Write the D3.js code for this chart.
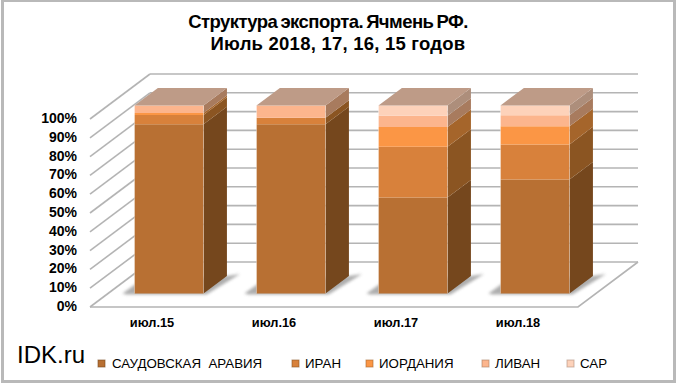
<!DOCTYPE html>
<html>
<head>
<meta charset="utf-8">
<script src="https://cdn.jsdelivr.net/npm/d3@7"></script>
<style>
  html, body { margin: 0; padding: 0; background: #fff; }
  text { font-family: "Liberation Sans", Arial, sans-serif; fill: #000; }
</style>
</head>
<body>
<div id="chart-area"></div>
<script>
//////////////////////////////// DATA ////////////////////////////////
const months = ["июл.15", "июл.16", "июл.17", "июл.18"];
const countries = ["САУДОВСКАЯ  АРАВИЯ", "ИРАН", "ИОРДАНИЯ", "ЛИВАН", "САР"];
const saudi = [90, 90, 51, 60.6];
const iran = [5, 3.5, 27, 18.7];
const jordan = [1, 0, 10.5, 9.6];
const lebanon = [4, 6.5, 6, 5.9];
const sar = [0, 0, 5.5, 5.2];
const yTicks = [0, 10, 20, 30, 40, 50, 60, 70, 80, 90, 100];

//////////////////////////////// LAYOUT / STYLE ////////////////////////////////
const faceColour = ["#b87033", "#d8813b", "#fb9645", "#fcb58d", "#fdd2ba"];
const sideColour = ["#75471d", "#8b5522", "#a5652b", "#a87b5e", "#ad8e7b"];
const topColour = "#be9b87";
const gridColour = "#b4b4b4";
const legendX = [98, 292, 366, 482, 567];

const width = 680, height = 385;
const svg = d3.select("#chart-area").append("svg")
  .attr("width", width)
  .attr("height", height)
  .style("display", "block");

// blur for the floor shadows
const defs = svg.append("defs");
defs.append("filter").attr("id", "blur")
  .attr("x", "-30%").attr("y", "-30%").attr("width", "160%").attr("height", "160%")
  .append("feGaussianBlur").attr("stdDeviation", 1.6);

// frame
svg.append("rect")
  .attr("x", 2.5).attr("y", 0.5)
  .attr("width", 672).attr("height", 381)
  .attr("fill", "#fff")
  .attr("stroke", "#b9b9b9")
  .attr("stroke-width", 3);

// title
const title = svg.append("text")
  .attr("text-anchor", "middle")
  .style("font-weight", "bold")
  .style("font-size", "18.5px");
title.append("tspan").attr("x", 328).attr("y", 28)
  .style("letter-spacing", "-0.55px")
  .style("word-spacing", "-1.5px")
  .text("Структура экспорта. Ячмень РФ.");
title.append("tspan").attr("x", 338).attr("y", 50)
  .style("letter-spacing", "0.23px")
  .text("Июль 2018, 17, 16, 15 годов");

//scales: front plane of the box, depth goes back and up
const x = d3.scaleBand()
  .domain(months)
  .range([90, 578])
  .paddingInner(0.434)
  .paddingOuter(0.217);

const y = d3.scaleLinear()
  .domain([0, 100])
  .range([307, 119]);

const depthX = d3.scaleLinear().domain([0, 1]).range([0, 60]);
const depthY = d3.scaleLinear().domain([0, 1]).range([0, -45]);
const barFront = 0.3, barBack = 0.69;

// project a point (screen x on the front plane, value, depth) to the screen
const px = (sx, d) => sx + depthX(d);
const py = (v, d) => y(v) + depthY(d);
const poly = pts => pts.map(p => p[0] + "," + p[1]).join(" ");

const x0 = x.range()[0], x1 = x.range()[1];

// walls grid
const grid = svg.append("g").attr("fill", "none")
  .attr("stroke", gridColour).attr("stroke-width", 1.6);

grid.selectAll(".back").data(yTicks).enter().append("line")
  .attr("x1", px(x0, 1)).attr("x2", px(x1, 1))
  .attr("y1", d => py(d, 1)).attr("y2", d => py(d, 1));

grid.selectAll(".side").data(yTicks).enter().append("line")
  .attr("x1", px(x0, 0)).attr("x2", px(x0, 1))
  .attr("y1", d => py(d, 0)).attr("y2", d => py(d, 1));

// floor outline
grid.append("polyline")
  .attr("points", poly([[px(x0, 0), py(0, 0)], [px(x1, 0), py(0, 0)], [px(x1, 1), py(0, 1)]]));

//stack the series
const rows = months.map((m, i) => ({
  month: m, a: saudi[i], b: iran[i], c: jordan[i], d: lebanon[i], e: sar[i]
}));
const stacked = d3.stack().keys(["a", "b", "c", "d", "e"])(rows);

// floor shadows
svg.append("g").selectAll("polygon").data(months).enter().append("polygon")
  .attr("points", m => {
    const l = x(m), r = l + x.bandwidth();
    const yf = py(0, barFront), yb = py(0, barBack);
    return poly([
      [px(l, barFront) - 12, yf],
      [px(l, barFront) + 2, yf - 10],
      [px(r, barBack), yb],
      [px(r, barBack) + 13, yb - 2],
      [px(r, barFront) + 3, yf + 1],
      [px(l, barFront) - 8, yf + 1]
    ]);
  })
  .attr("fill", "#9a9a9a")
  .attr("opacity", 0.8)
  .attr("filter", "url(#blur)");

// bars
const bars = svg.append("g").selectAll("g").data(months).enter().append("g");

bars.each(function(m, i) {
  const g = d3.select(this);
  const l = x(m), r = l + x.bandwidth();

  stacked.forEach((s, k) => {
    const lo = s[i][0], hi = s[i][1];
    if (hi - lo <= 0) return;
    // side
    g.append("polygon")
      .attr("points", poly([
        [px(r, barFront), py(lo, barFront)],
        [px(r, barBack), py(lo, barBack)],
        [px(r, barBack), py(hi, barBack)],
        [px(r, barFront), py(hi, barFront)]
      ]))
      .attr("fill", sideColour[k]);
    // front
    g.append("polygon")
      .attr("points", poly([
        [px(l, barFront), py(lo, barFront)],
        [px(r, barFront), py(lo, barFront)],
        [px(r, barFront), py(hi, barFront)],
        [px(l, barFront), py(hi, barFront)]
      ]))
      .attr("fill", faceColour[k]);
  });

  // top
  g.append("polygon")
    .attr("points", poly([
      [px(l, barFront), py(100, barFront)],
      [px(r, barFront), py(100, barFront)],
      [px(r, barBack), py(100, barBack)],
      [px(l, barBack), py(100, barBack)]
    ]))
    .attr("fill", topColour);

  // soft edges
  g.append("line")
    .attr("x1", px(l, barFront)).attr("x2", px(l, barFront))
    .attr("y1", py(0, barFront)).attr("y2", py(100, barFront))
    .attr("stroke", "#fff").attr("stroke-opacity", 0.35);
  g.append("line")
    .attr("x1", px(r, barFront)).attr("x2", px(r, barFront))
    .attr("y1", py(0, barFront)).attr("y2", py(100, barFront))
    .attr("stroke", "#fff").attr("stroke-opacity", 0.3);
});

//axes
const yAxis = d3.axisLeft(y).tickValues(yTicks).tickSize(0).tickPadding(0).tickFormat(d => d + "%");
const yG = svg.append("g").attr("transform", "translate(77,-1)").call(yAxis);
yG.select(".domain").remove();
yG.selectAll("text").style("font-size", "14px").style("font-weight", "bold").attr("fill", "#000");

const xAxis = d3.axisBottom(x).tickSize(0).tickPadding(0);
const xG = svg.append("g").attr("transform", "translate(1,318)").call(xAxis);
xG.select(".domain").remove();
xG.selectAll("text").style("font-size", "12.8px").style("font-weight", "bold").attr("fill", "#000");

// watermark
svg.append("text").attr("x", 17).attr("y", 363)
  .style("font-size", "24px")
  .text("IDK.ru");

//legend
const legend = svg.append("g").selectAll("g").data(countries).enter().append("g")
  .attr("transform", (d, i) => "translate(" + legendX[i] + ",360)");

legend.append("rect")
  .attr("width", 7).attr("height", 7)
  .attr("fill", (d, i) => faceColour[i])
  .attr("stroke", (d, i) => sideColour[i])
  .attr("stroke-opacity", 0.6)
  .attr("stroke-width", 1);

legend.append("text")
  .attr("x", (d, i) => i == 0 ? 14 : 13)
  .attr("y", 8)
  .style("font-size", "13.3px")
  .style("white-space", "pre")
  .attr("xml:space", "preserve")
  .text(d => d);
</script>
</body>
</html>
